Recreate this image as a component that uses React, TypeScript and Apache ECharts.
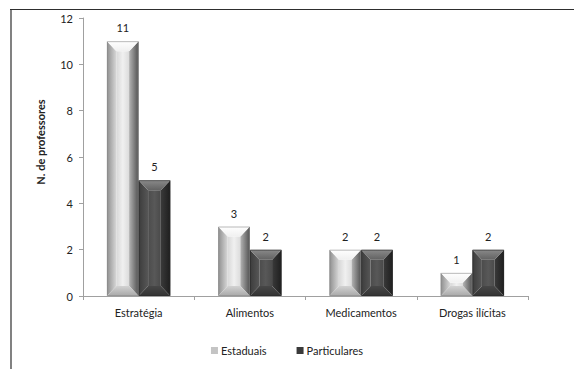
import React, { useEffect, useRef } from "react";
import * as echarts from "echarts";

const categories = ["Estratégia", "Alimentos", "Medicamentos", "Drogas ilícitas"];
const estaduais = [11, 3, 2, 1];
const particulares = [5, 2, 2, 2];
const seriesNames = ["Estaduais", "Particulares"];
const yAxisTitle = "N. de professores";
const yMin = 0;
const yMax = 12;
const yStep = 2;

const FONT = "Lato, 'Open Sans', sans-serif";

type Palette = {
  top: string[];
  left: string[];
  face: string[];
  right: string[];
  bottom: string[];
  edge: string;
  legend: string;
};

const lightPal: Palette = {
  top: ["#ffffff", "#f0f0f0"],
  left: ["#8e8e8e", "#d8d8d8"],
  face: ["#d8d8d8", "#f0f0f0", "#dcdcdc"],
  right: ["#b4b4b4", "#505050"],
  bottom: ["#d2d2d2", "#a8a8a8"],
  edge: "#8a8a8a",
  legend: "#c4c4c4",
};

const darkPal: Palette = {
  top: ["#8a8a8a", "#626262"],
  left: ["#3c3c3c", "#575757"],
  face: ["#4c4c4c", "#585858", "#4a4a4a"],
  right: ["#3a3a3a", "#1e1e1e"],
  bottom: ["#474747", "#333333"],
  edge: "#2a2a2a",
  legend: "#3a3a3a",
};

const grad = (x2: number, y2: number, colors: string[]) =>
  new echarts.graphic.LinearGradient(
    0,
    0,
    x2,
    y2,
    colors.map((c, i) => ({ offset: colors.length === 1 ? 0 : i / (colors.length - 1), color: c }))
  );

// Draws one bevelled bar: a flat face framed by four shaded slopes.
const bevelBar = (slot: number, pal: Palette) => (params: any, api: any) => {
  const ci = api.value(0);
  const v = api.value(1);
  const base = api.coord([ci, 0]);
  const tip = api.coord([ci, v]);
  const band = api.size([1, 0])[0];
  const w = band * 0.285;
  const x0 = base[0] - w + slot * w;
  const x1 = x0 + w;
  const yTop = tip[1];
  const yBot = base[1];
  const h = yBot - yTop;
  const bx = Math.min(w * 0.3, h / 2);
  const by = Math.min(10, h / 2);

  return {
    type: "group",
    children: [
      {
        type: "rect",
        shape: { x: x0 + bx, y: yTop + by, width: w - 2 * bx, height: Math.max(0, h - 2 * by) },
        style: { fill: grad(1, 0, pal.face) },
      },
      {
        type: "polygon",
        shape: { points: [[x0, yTop], [x0 + bx, yTop + by], [x0 + bx, yBot - by], [x0, yBot]] },
        style: { fill: grad(1, 0, pal.left) },
      },
      {
        type: "polygon",
        shape: { points: [[x1, yTop], [x1, yBot], [x1 - bx, yBot - by], [x1 - bx, yTop + by]] },
        style: { fill: grad(1, 0, pal.right) },
      },
      {
        type: "polygon",
        shape: { points: [[x0, yTop], [x1, yTop], [x1 - bx, yTop + by], [x0 + bx, yTop + by]] },
        style: { fill: grad(0, 1, pal.top) },
      },
      {
        type: "polygon",
        shape: { points: [[x0, yBot], [x0 + bx, yBot - by], [x1 - bx, yBot - by], [x1, yBot]] },
        style: { fill: grad(0, 1, pal.bottom) },
      },
      {
        type: "rect",
        shape: { x: x0 + 0.5, y: yTop + 0.5, width: w - 1, height: h - 1 },
        style: { fill: "none", stroke: pal.edge, lineWidth: 0.6 },
      },
      {
        type: "text",
        style: {
          text: String(v),
          x: (x0 + x1) / 2,
          y: yTop - 8,
          align: "center",
          verticalAlign: "bottom",
          fill: "#222222",
          font: `11px ${FONT}`,
        },
      },
    ],
  };
};

export default function App() {
  const ref = useRef<HTMLDivElement>(null);

  useEffect(() => {
    if (!ref.current) return;
    const chart = echarts.init(ref.current, undefined, { renderer: "svg" });
    const mk = (name: string, vals: number[], slot: number, pal: Palette) => ({
      type: "custom",
      name,
      data: vals.map((v, i) => [i, v]),
      encode: { x: 0, y: 1 },
      itemStyle: { color: pal.legend },
      renderItem: bevelBar(slot, pal),
    });

    chart.setOption({
      animation: false,
      backgroundColor: "#ffffff",
      textStyle: { fontFamily: FONT },
      grid: { left: 83, right: 46, top: 18, bottom: 73 },
      legend: {
        data: seriesNames,
        bottom: 8,
        left: "center",
        icon: "rect",
        itemWidth: 7,
        itemHeight: 7,
        itemGap: 30,
        textStyle: { fontSize: 11, color: "#222", fontFamily: FONT, padding: [0, 0, 0, -2] },
      },
      xAxis: {
        type: "category",
        data: categories,
        axisLine: { lineStyle: { color: "#a0a0a0" } },
        axisTick: { show: true, length: 4, lineStyle: { color: "#a0a0a0" } },
        axisLabel: { fontSize: 11, color: "#222", margin: 11 },
      },
      yAxis: {
        type: "value",
        min: yMin,
        max: yMax,
        interval: yStep,
        axisLine: { show: true, lineStyle: { color: "#a0a0a0" } },
        axisTick: { show: true, length: 4, lineStyle: { color: "#a0a0a0" } },
        splitLine: { show: false },
        axisLabel: { fontSize: 11, color: "#222", margin: 10 },
      },
      graphic: [
        {
          type: "line",
          shape: { x1: 10, y1: 9.5, x2: 574, y2: 9.5 },
          style: { stroke: "#2e2e2e", lineWidth: 1.2 },
        },
        {
          type: "line",
          shape: { x1: 11, y1: 9, x2: 11, y2: 369 },
          style: { stroke: "#2e2e2e", lineWidth: 1.2 },
        },
        {
          type: "text",
          x: 40,
          y: 142,
          rotation: Math.PI / 2,
          style: {
            text: yAxisTitle,
            align: "center",
            verticalAlign: "middle",
            fill: "#222",
            font: `bold 11px ${FONT}`,
          },
        },
      ],
      series: [mk(seriesNames[0], estaduais, 0, lightPal), mk(seriesNames[1], particulares, 1, darkPal)],
    });
    return () => chart.dispose();
  }, []);

  return <div ref={ref} style={{ width: 574, height: 369, position: "absolute", left: 0, top: 0 }} />;
}
